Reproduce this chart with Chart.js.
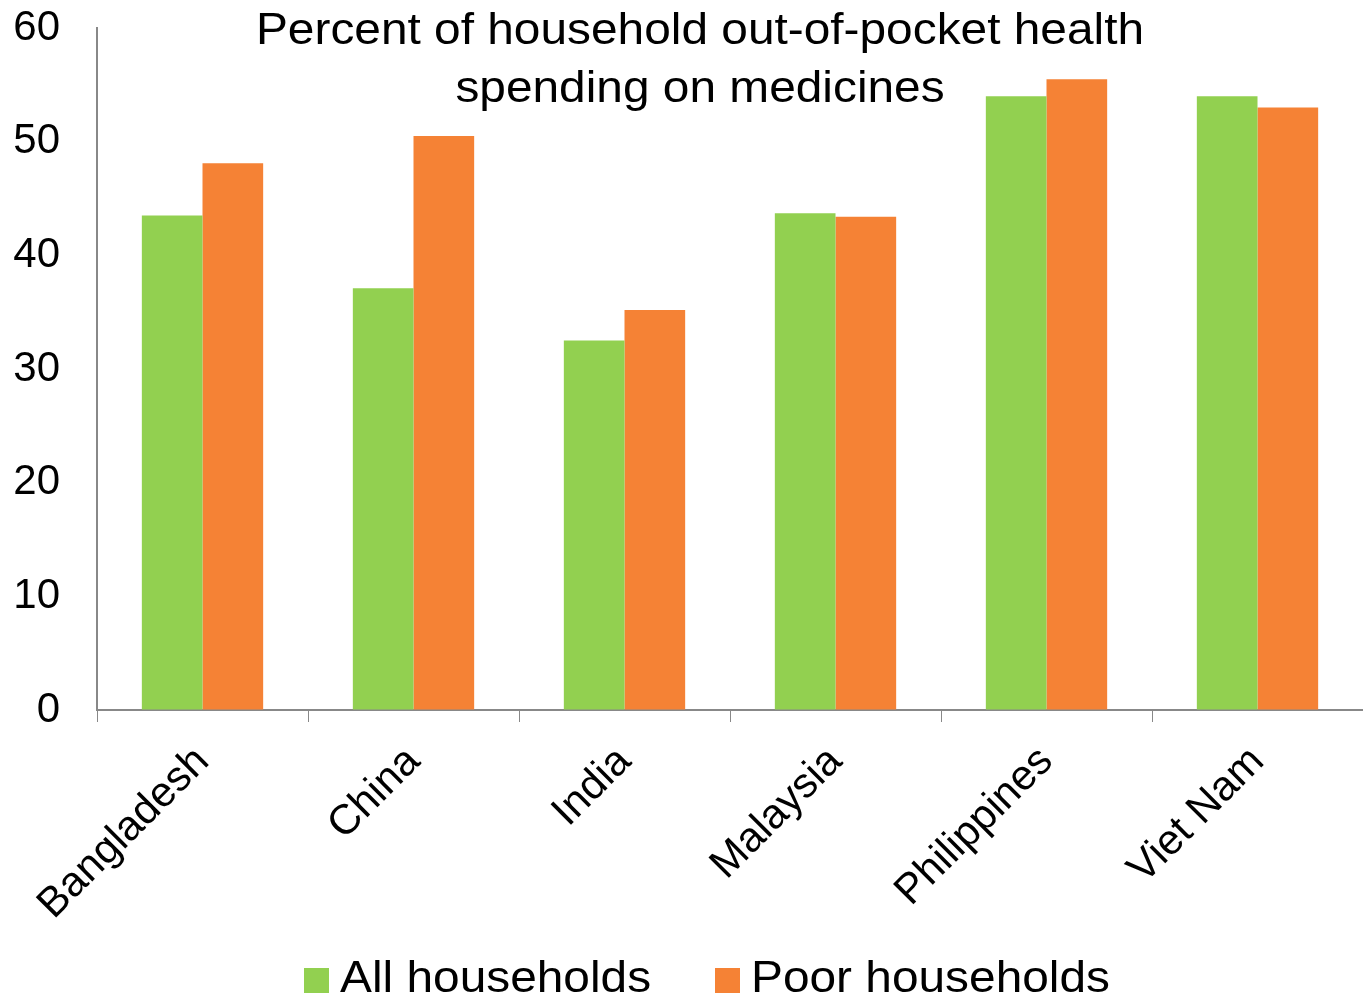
<!DOCTYPE html>
<html>
<head>
<meta charset="utf-8">
<script src="https://cdn.jsdelivr.net/npm/chart.js@4/dist/chart.umd.min.js"></script>
<style>
  html, body { margin: 0; padding: 0; background: #fff; }
  #wrap { width: 1363px; height: 1000px; position: relative; }
</style>
</head>
<body>
<div id="wrap"><canvas id="chart"></canvas></div>
<script>
const countries = ["Bangladesh", "China", "India", "Malaysia", "Philippines", "Viet Nam"];
const allHouseholds = [43.5, 37.1, 32.5, 43.7, 54.0, 54.0];
const poorHouseholds = [48.1, 50.5, 35.2, 43.4, 55.5, 53.0];
const titleLines = ["Percent of household out-of-pocket health", "spending on medicines"];

const GREEN = "#92D050";
const ORANGE = "#F58235";
const FONT = "'Liberation Sans', Arial, sans-serif";
const STRETCH = 1.087; // reference text is a bit wider than plain Arial

// title sits inside the plot area, so draw it after everything else
const titleInside = {
    id: "titleInside",
    afterDraw(chart) {
        const ctx = chart.ctx;
        ctx.save();
        ctx.fillStyle = "#000";
        ctx.font = "44px " + FONT;
        ctx.textAlign = "center";
        ctx.textBaseline = "middle";
        ctx.translate(700, 0);
        ctx.scale(STRETCH, 1);
        ctx.fillText(titleLines[0], 0, 32);
        ctx.fillText(titleLines[1], 0, 90);
        ctx.restore();
    }
};

// legend with the reference's spacing (box close to text, wide gap between items)
const bottomLegend = {
    id: "bottomLegend",
    afterDraw(chart) {
        const ctx = chart.ctx;
        const starts = [304, 715];
        ctx.save();
        ctx.font = "44px " + FONT;
        ctx.textBaseline = "middle";
        chart.data.datasets.forEach((ds, i) => {
            const x = starts[i];
            ctx.fillStyle = ds.backgroundColor;
            ctx.fillRect(x, 968, 25, 25);
            ctx.fillStyle = "#000";
            ctx.save();
            ctx.translate(x + 36, 980);
            ctx.scale(STRETCH, 1);
            ctx.fillText(ds.label, 0, 0);
            ctx.restore();
        });
        ctx.restore();
    }
};

new Chart(document.getElementById("chart"), {
    type: "bar",
    data: {
        labels: countries,
        datasets: [
            { label: "All households", data: allHouseholds, backgroundColor: GREEN },
            { label: "Poor households", data: poorHouseholds, backgroundColor: ORANGE }
        ]
    },
    options: {
        responsive: true,
        maintainAspectRatio: false,
        animation: false,
        layout: { padding: { top: 28, right: 0, left: 0, bottom: 60 } },
        datasets: { bar: { categoryPercentage: 0.575, barPercentage: 1, borderWidth: 0 } },
        scales: {
            x: {
                grid: { display: true, drawOnChartArea: false, drawTicks: true, tickLength: 12, color: "#888", offset: true },
                border: { display: true, color: "#888", width: 2 },
                ticks: { color: "#000", font: { family: FONT, size: 42 }, minRotation: 45, maxRotation: 45, padding: 15 },
                afterFit: s => { s.height = 230; }
            },
            y: {
                min: 0, max: 60,
                grid: { display: true, drawOnChartArea: false, drawTicks: true, tickLength: 37, tickColor: "rgba(0,0,0,0)" },
                border: { display: true, color: "#888", width: 2 },
                ticks: { stepSize: 10, color: "#000", font: { family: FONT, size: 42 }, padding: 0 },
                afterFit: s => { s.width = 97; }
            }
        },
        plugins: {
            tooltip: { enabled: false },
            legend: { display: false }
        }
    },
    plugins: [titleInside, bottomLegend]
});
</script>
</body>
</html>
